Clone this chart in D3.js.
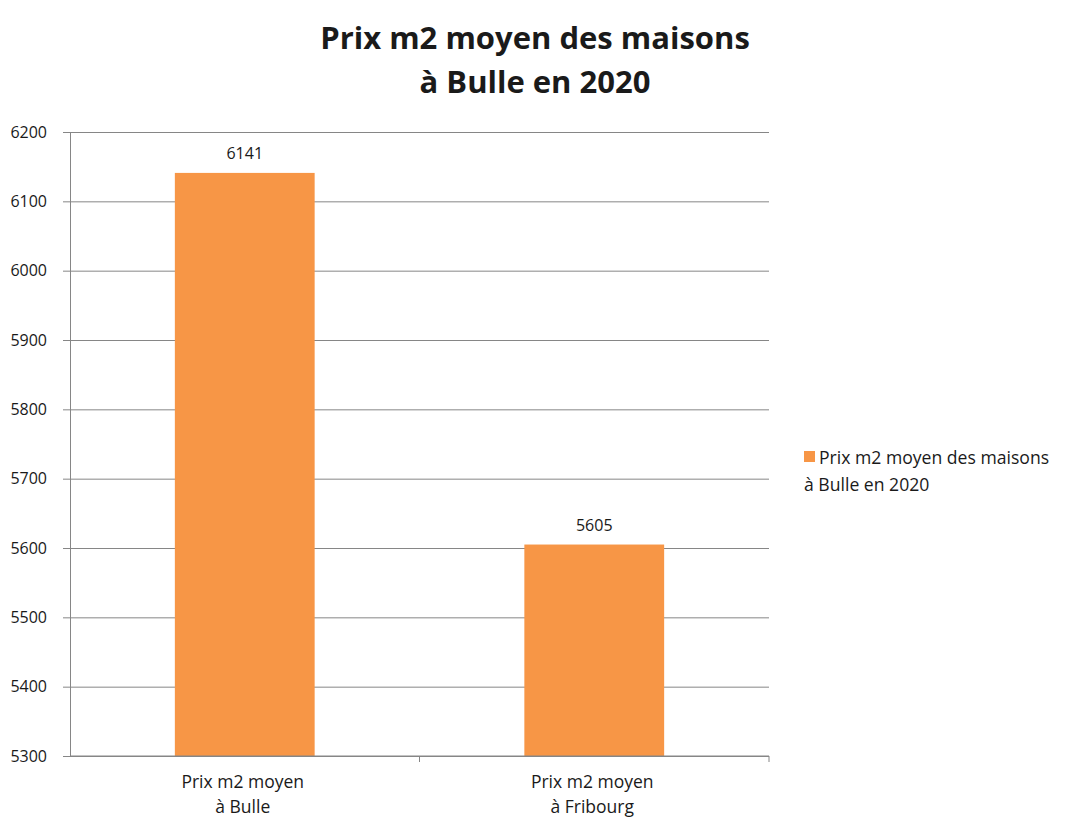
<!DOCTYPE html>
<meta charset="utf-8">
<script src="https://d3js.org/d3.v7.min.js"></script>
<style>
    body { margin: 0; background-color: white; }
    svg { display: block; }
    text { font-family: "Open Sans", sans-serif; fill: #1a1a1a; }
</style>
<body>
<div id="my_dataviz"></div>
<script>
    // data
    var categories = [["Prix m2 moyen", "à Bulle"], ["Prix m2 moyen", "à Fribourg"]];
    var values = [6141, 5605];
    var yTicks = [5300, 5400, 5500, 5600, 5700, 5800, 5900, 6000, 6100, 6200];
    var titleLines = ["Prix m2 moyen des maisons", "à Bulle en 2020"];
    var legendLines = ["Prix m2 moyen des maisons", "à Bulle en 2020"];

    var width = 1073, height = 835;
    var plotLeft = 70, plotRight = 769, plotTop = 132, plotBottom = 756;
    var barColor = "#f79646", axisColor = "#868686";

    var svg = d3.select("#my_dataviz").append("svg")
        .attr("width", width)
        .attr("height", height);

    var x = d3.scaleBand()
        .domain(d3.range(values.length))
        .range([plotLeft, plotRight])
        .paddingInner(0.6)
        .paddingOuter(0.3);

    var y = d3.scaleLinear()
        .domain([5300, 6200])
        .range([plotBottom, plotTop]);

    // gridlines + y axis
    var yAxis = svg.append("g")
        .attr("transform", "translate(" + plotLeft + ",0)")
        .call(d3.axisLeft(y).tickValues(yTicks).tickSize(7).tickSizeOuter(0).tickFormat(d3.format("d")));
    yAxis.select(".domain").attr("stroke", axisColor);
    yAxis.selectAll(".tick line").attr("stroke", axisColor)
        .clone()
        .attr("x1", 0)
        .attr("x2", plotRight - plotLeft);
    yAxis.selectAll(".tick text")
        .attr("x", -23)
        .style("font-size", "16px")
        .style("font-family", "'Open Sans', sans-serif")
        .attr("fill", "#1a1a1a");

    // bars
    svg.selectAll("rect.bar")
        .data(values)
        .enter().append("rect")
        .attr("class", "bar")
        .attr("x", function (d, i) { return x(i); })
        .attr("width", x.bandwidth())
        .attr("y", function (d) { return y(d); })
        .attr("height", function (d) { return plotBottom - y(d); })
        .attr("fill", barColor);

    // value labels
    svg.selectAll("text.val")
        .data(values)
        .enter().append("text")
        .attr("class", "val")
        .attr("x", function (d, i) { return x(i) + x.bandwidth() / 2; })
        .attr("y", function (d) { return y(d) - 14; })
        .attr("text-anchor", "middle")
        .style("font-size", "16px")
        .text(function (d) { return d; });

    // x axis
    var xAxis = svg.append("g")
        .attr("transform", "translate(0," + plotBottom + ")");
    xAxis.append("line")
        .attr("x1", plotLeft).attr("x2", plotRight)
        .attr("stroke", axisColor);
    var step = x.step();
    [1, 2].forEach(function (k) {
        xAxis.append("line")
            .attr("x1", plotLeft + k * step).attr("x2", plotLeft + k * step)
            .attr("y1", 0).attr("y2", 6)
            .attr("stroke", axisColor);
    });
    categories.forEach(function (lines, i) {
        var t = xAxis.append("text")
            .attr("x", x(i) + x.bandwidth() / 2)
            .attr("text-anchor", "middle")
            .style("font-size", "17.5px");
        lines.forEach(function (l, j) {
            t.append("tspan")
                .attr("x", x(i) + x.bandwidth() / 2 - 2)
                .attr("y", 32 + j * 25)
                .text(l);
        });
    });

    // title
    titleLines.forEach(function (l, j) {
        svg.append("text")
            .attr("x", 535)
            .attr("y", 49 + j * 44)
            .attr("text-anchor", "middle")
            .style("font-size", "31px")
            .style("font-weight", "bold")
            .attr("fill", "#000")
            .text(l);
    });

    // legend
    svg.append("rect")
        .attr("x", 804).attr("y", 451)
        .attr("width", 11).attr("height", 11)
        .attr("fill", barColor);
    legendLines.forEach(function (l, j) {
        svg.append("text")
            .attr("x", j === 0 ? 819 : 804)
            .attr("y", 464 + j * 27)
            .style("font-size", "17.6px")
            .text(l);
    });
</script>
</body>
